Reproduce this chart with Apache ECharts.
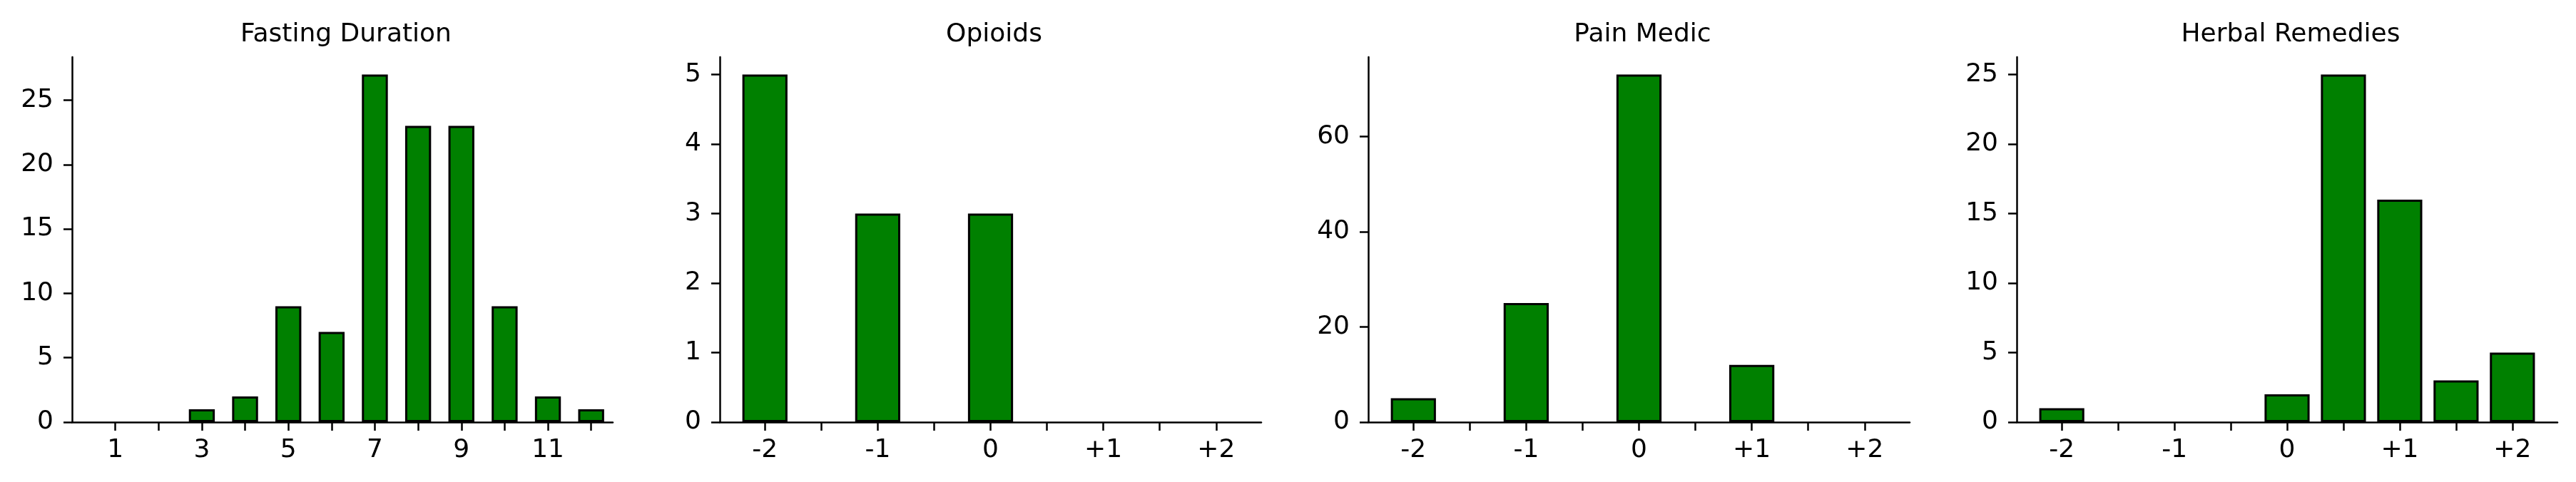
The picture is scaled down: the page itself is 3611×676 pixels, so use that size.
<!DOCTYPE html>
<html>
<head>
<meta charset="utf-8">
<title>Response distributions</title>
<script src="https://cdn.jsdelivr.net/npm/echarts@6/dist/echarts.min.js"></script>
<style>
  html, body { margin: 0; padding: 0; background: #fff; }
  #chart { width: 3611px; height: 676px; }
</style>
</head>
<body>
<div id="chart"></div>
<script>
// values
const panelTitles = ["Fasting Duration", "Opioids", "Pain Medic", "Herbal Remedies"];

const fastingHours = [1, 2, 3, 4, 5, 6, 7, 8, 9, 10, 11, 12];
const fastingCounts = [0, 0, 1, 2, 9, 7, 27, 23, 23, 9, 2, 1];
const fastingLabelValues = [1, 3, 5, 7, 9, 11];
const fastingYTicks = [0, 5, 10, 15, 20, 25];

const scoreLevels = [-2, -1.5, -1, -0.5, 0, 0.5, 1, 1.5, 2];
const scoreLabelValues = [-2, -1, 0, 1, 2];
const opioidCounts = [5, 0, 3, 0, 3, 0, 0, 0, 0];
const painMedicCounts = [5, 0, 25, 0, 73, 0, 12, 0, 0];
const herbalCounts = [1, 0, 0, 0, 2, 25, 16, 3, 5];

const opioidYTicks = [0, 1, 2, 3, 4, 5];
const painMedicYTicks = [0, 20, 40, 60];
const herbalYTicks = [0, 5, 10, 15, 20, 25];

const FONT = "DejaVu Sans";
const GREEN = "#008000";
const TOP = 80, HEIGHT = 512;

// one entry per subplot
const panels = [
  { left: 101,  width: 758, xMin: 0,    xMax: 12.5, xs: fastingHours, ys: fastingCounts,   barUnits: 0.6,
    xTicks: fastingHours, xLabels: fastingLabelValues, yTicks: fastingYTicks },
  { left: 1009, width: 759, xMin: -2.4, xMax: 2.4,  xs: scoreLevels, ys: opioidCounts,     barUnits: 0.4,
    xTicks: scoreLevels, xLabels: scoreLabelValues, yTicks: opioidYTicks },
  { left: 1918, width: 759, xMin: -2.4, xMax: 2.4,  xs: scoreLevels, ys: painMedicCounts,  barUnits: 0.4,
    xTicks: scoreLevels, xLabels: scoreLabelValues, yTicks: painMedicYTicks },
  { left: 2827, width: 758, xMin: -2.4, xMax: 2.4,  xs: scoreLevels, ys: herbalCounts,     barUnits: 0.4,
    xTicks: scoreLevels, xLabels: scoreLabelValues, yTicks: herbalYTicks }
];

const signed = v => (v > 0 ? "+" + v : String(v));

const axisLine = { show: true, onZero: false, lineStyle: { color: "#000", width: 2.5 } };
const axisTick = { show: true, length: 12, lineStyle: { color: "#000", width: 2.5 } };

const chart = echarts.init(document.getElementById("chart"), null, { renderer: "canvas" });

chart.setOption({
  animation: false,
  backgroundColor: "#fff",
  title: panels.map((p, i) => ({
    text: panelTitles[i],
    left: p.left + p.width / 2,
    top: 26,
    textAlign: "center",
    textStyle: { fontFamily: FONT, fontSize: 36, fontWeight: "normal", color: "#000" }
  })),
  grid: panels.map(p => ({ left: p.left, top: TOP, width: p.width, height: HEIGHT })),
  xAxis: panels.map((p, i) => ({
    type: "value",
    gridIndex: i,
    min: p.xMin,
    max: p.xMax,
    splitLine: { show: false },
    axisLine: axisLine,
    axisTick: Object.assign({ customValues: p.xTicks }, axisTick),
    axisLabel: {
      customValues: p.xLabels,
      margin: 22,
      fontFamily: FONT,
      fontSize: 36,
      color: "#000",
      formatter: v => (i === 0 ? String(v) : signed(v))
    }
  })),
  yAxis: panels.map((p, i) => {
    const top = Math.max.apply(null, p.ys) * 1.05;
    return {
      type: "value",
      gridIndex: i,
      min: 0,
      max: top,
      splitLine: { show: false },
      axisLine: axisLine,
      axisTick: Object.assign({ customValues: p.yTicks }, axisTick),
      axisLabel: {
        customValues: p.yTicks,
        margin: 26,
        fontFamily: FONT,
        fontSize: 36,
        color: "#000"
      }
    };
  }),
  series: panels.map((p, i) => ({
    type: "bar",
    xAxisIndex: i,
    yAxisIndex: i,
    barWidth: p.barUnits * p.width / (p.xMax - p.xMin),
    itemStyle: { color: GREEN, borderColor: "#000", borderWidth: 3 },
    // empty levels have no visible bar in the reference
    data: p.xs.map((x, k) => [x, p.ys[k]]).filter(d => d[1] > 0)
  }))
});
</script>
</body>
</html>
